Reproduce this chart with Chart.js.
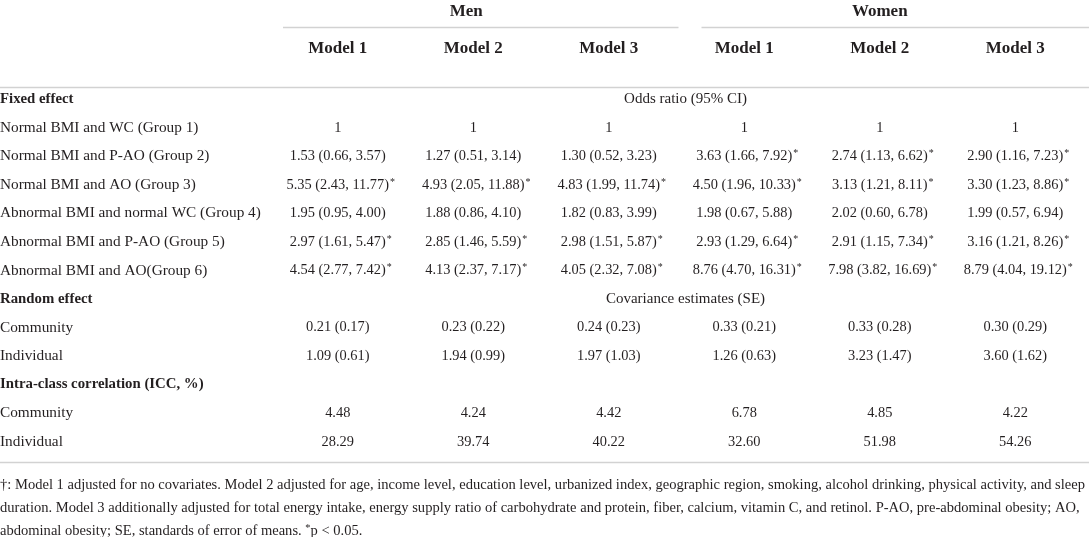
<!DOCTYPE html>
<html>
<head>
<meta charset="utf-8">
<script src="https://cdn.jsdelivr.net/npm/chart.js@4.4.0/dist/chart.umd.min.js"></script>
<style>
  html, body { margin: 0; padding: 0; background: #fff; }
  canvas { display: block; }
</style>
</head>
<body>
<canvas id="myTableChart" width="1089" height="537"></canvas>
<script>
// TABLE DATA
const groups = ['Men', 'Women'];
const models = ['Model 1', 'Model 2', 'Model 3', 'Model 1', 'Model 2', 'Model 3'];

const rowLabels = [
  'Fixed effect',
  'Normal BMI and WC (Group 1)',
  'Normal BMI and P-AO (Group 2)',
  'Normal BMI and AO (Group 3)',
  'Abnormal BMI and normal WC (Group 4)',
  'Abnormal BMI and P-AO (Group 5)',
  'Abnormal BMI and AO(Group 6)',
  'Random effect',
  'Community',
  'Individual',
  'Intra-class correlation (ICC, %)',
  'Community',
  'Individual'
];
const sectionRows = [0, 7, 10];
const sectionNotes = { 0: 'Odds ratio (95% CI)', 7: 'Covariance estimates (SE)' };

const group1 = ['1', '1', '1', '1', '1', '1'];
const group2 = ['1.53 (0.66, 3.57)', '1.27 (0.51, 3.14)', '1.30 (0.52, 3.23)', '3.63 (1.66, 7.92)*', '2.74 (1.13, 6.62)*', '2.90 (1.16, 7.23)*'];
const group3 = ['5.35 (2.43, 11.77)*', '4.93 (2.05, 11.88)*', '4.83 (1.99, 11.74)*', '4.50 (1.96, 10.33)*', '3.13 (1.21, 8.11)*', '3.30 (1.23, 8.86)*'];
const group4 = ['1.95 (0.95, 4.00)', '1.88 (0.86, 4.10)', '1.82 (0.83, 3.99)', '1.98 (0.67, 5.88)', '2.02 (0.60, 6.78)', '1.99 (0.57, 6.94)'];
const group5 = ['2.97 (1.61, 5.47)*', '2.85 (1.46, 5.59)*', '2.98 (1.51, 5.87)*', '2.93 (1.29, 6.64)*', '2.91 (1.15, 7.34)*', '3.16 (1.21, 8.26)*'];
const group6 = ['4.54 (2.77, 7.42)*', '4.13 (2.37, 7.17)*', '4.05 (2.32, 7.08)*', '8.76 (4.70, 16.31)*', '7.98 (3.82, 16.69)*', '8.79 (4.04, 19.12)*'];
const covCommunity = ['0.21 (0.17)', '0.23 (0.22)', '0.24 (0.23)', '0.33 (0.21)', '0.33 (0.28)', '0.30 (0.29)'];
const covIndividual = ['1.09 (0.61)', '1.94 (0.99)', '1.97 (1.03)', '1.26 (0.63)', '3.23 (1.47)', '3.60 (1.62)'];
const iccCommunity = ['4.48', '4.24', '4.42', '6.78', '4.85', '4.22'];
const iccIndividual = ['28.29', '39.74', '40.22', '32.60', '51.98', '54.26'];

const rowCells = [null, group1, group2, group3, group4, group5, group6, null, covCommunity, covIndividual, null, iccCommunity, iccIndividual];

const footnote = [
  '\u2020: Model 1 adjusted for no covariates. Model 2 adjusted for age, income level, education level, urbanized index, geographic region, smoking, alcohol drinking, physical activity, and sleep',
  'duration. Model 3 additionally adjusted for total energy intake, energy supply ratio of carbohydrate and protein, fiber, calcium, vitamin C, and retinol. P-AO, pre-abdominal obesity; AO,',
  'abdominal obesity; SE, standards of error of means. *p < 0.05.'
];

// unique keys for the category scales (labels repeat)
const colKeys = models.map((m, i) => groups[Math.floor(i / 3)] + ' ' + m);
const rowKeys = rowLabels.map((l, i) => 'row' + i + ' ' + l);

const TEXT = '#231f20';
const RULE = '#d2d2d2';
const SERIF = '"Liberation Serif", "DejaVu Serif", serif';

function drawValue(ctx, text, x, y) {
  const star = text.endsWith('*');
  const body = star ? text.slice(0, -1) : text;
  ctx.font = '14.4px ' + SERIF;
  ctx.textAlign = 'center';
  ctx.fillText(body, x, y);
  if (star) {
    const w = ctx.measureText(body).width;
    ctx.font = '10px ' + SERIF;
    ctx.textAlign = 'left';
    ctx.fillText('*', x + w / 2 + 1, y - 3);
  }
}

const tablePlugin = {
  id: 'tableText',
  afterDraw(chart) {
    const ctx = chart.ctx;
    const xs = chart.scales.x;
    const ys = chart.scales.y;
    const area = chart.chartArea;
    const half = xs.width / models.length / 2;
    ctx.save();

    // rules
    ctx.strokeStyle = RULE;
    ctx.lineWidth = 1.5;
    const hline = (x0, x1, y) => { ctx.beginPath(); ctx.moveTo(x0, y); ctx.lineTo(x1, y); ctx.stroke(); };
    const groupRuleY = area.top - 57.5;
    hline(xs.getPixelForValue(0) - half + 13, xs.getPixelForValue(2) + half + 2, groupRuleY);
    hline(xs.getPixelForValue(3) - half + 25, chart.width, groupRuleY);
    hline(0, chart.width, area.top + 2.5);
    hline(0, chart.width, area.bottom + 6.5);

    ctx.fillStyle = TEXT;
    ctx.textBaseline = 'middle';

    // group and model headers
    ctx.font = 'bold 17px ' + SERIF;
    ctx.textAlign = 'center';
    groups.forEach((g, i) => ctx.fillText(g, xs.getPixelForValue(i * 3 + 1) - (i === 0 ? 7 : 0), area.top - 73));
    models.forEach((m, i) => ctx.fillText(m, xs.getPixelForValue(i), area.top - 36));

    // row labels
    ctx.textAlign = 'left';
    rowLabels.forEach((label, r) => {
      const isSection = sectionRows.includes(r);
      ctx.font = (isSection ? 'bold 14.8px ' : '15.3px ') + SERIF;
      ctx.fillText(label, 0, ys.getPixelForValue(r));
      if (sectionNotes[r]) {
        ctx.font = '15px ' + SERIF;
        ctx.textAlign = 'center';
        const mid = (xs.getPixelForValue(2) + xs.getPixelForValue(3)) / 2 + 9;
        ctx.fillText(sectionNotes[r], mid, ys.getPixelForValue(r));
        ctx.textAlign = 'left';
      }
    });

    // cell values, placed at each point the scales computed
    chart.data.datasets.forEach((ds, di) => {
      const meta = chart.getDatasetMeta(di);
      meta.data.forEach((pt, i) => drawValue(ctx, ds.data[i].text, pt.x, pt.y));
    });

    // footnote, fitted to the full width like the source
    ctx.font = '14px ' + SERIF;
    ctx.textAlign = 'left';
    const squeeze = 1085 / ctx.measureText(footnote[0]).width;
    footnote.forEach((line, i) => {
      const y = area.bottom + 29 + i * 23;
      ctx.save();
      ctx.translate(0, y);
      ctx.scale(squeeze, 1);
      if (line.includes('*p')) {
        const [pre, post] = line.split('*');
        ctx.fillText(pre, 0, 0);
        const w1 = ctx.measureText(pre).width;
        ctx.font = '10px ' + SERIF;
        ctx.fillText('*', w1, -3);
        const w2 = ctx.measureText('*').width;
        ctx.font = '14px ' + SERIF;
        ctx.fillText(post, w1 + w2, 0);
      } else {
        ctx.fillText(line, 0, 0);
      }
      ctx.restore();
    });

    ctx.restore();
  }
};

var ctxTable = document.getElementById('myTableChart').getContext('2d');
var myChart = new Chart(ctxTable, {
  type: 'scatter',
  data: {
    datasets: colKeys.map((key, c) => ({
      label: key,
      data: rowCells
        .map((row, r) => row ? { x: key, y: rowKeys[r], text: row[c] } : null)
        .filter(Boolean),
      pointRadius: 0,
      pointHoverRadius: 0
    }))
  },
  options: {
    responsive: false,
    animation: false,
    events: [],
    layout: { padding: { top: 85, bottom: 81, left: 270, right: 6 } },
    scales: {
      x: { type: 'category', labels: colKeys, offset: true, display: false },
      y: { type: 'category', labels: rowKeys, offset: true, display: false }
    },
    plugins: {
      legend: { display: false },
      tooltip: { enabled: false }
    }
  },
  plugins: [tablePlugin]
});
</script>
</body>
</html>
